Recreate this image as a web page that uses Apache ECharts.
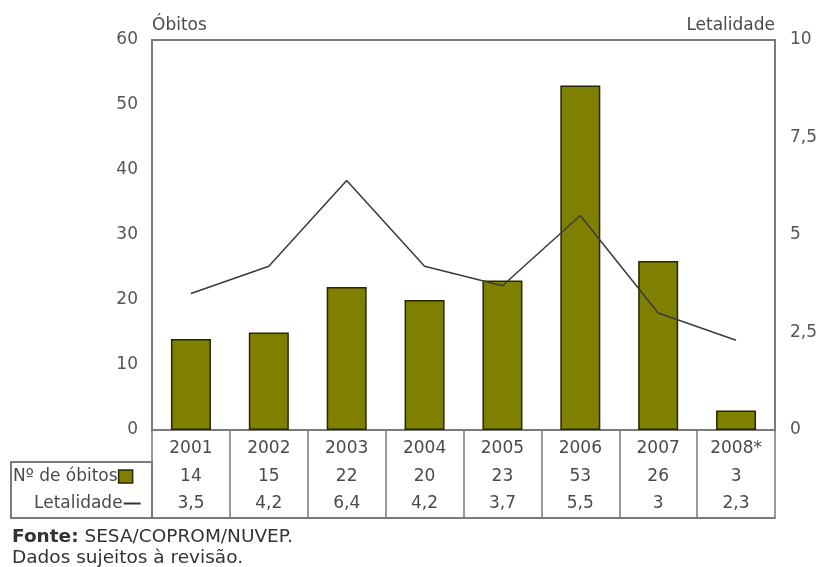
<!DOCTYPE html>
<html>
<head>
<meta charset="utf-8">
<script src="https://cdn.jsdelivr.net/npm/echarts@6/dist/echarts.min.js"></script>
<style>
  html, body { margin: 0; padding: 0; background: #fff; }
  #chart { width: 817px; height: 567px; }
</style>
</head>
<body>
<div id="chart"></div>
<script>
const years = ['2001', '2002', '2003', '2004', '2005', '2006', '2007', '2008*'];
const obitos = [14, 15, 22, 20, 23, 53, 26, 3];
const letalidade = [3.5, 4.2, 6.4, 4.2, 3.7, 5.5, 3.0, 2.3];
const leftTicks = { min: 0, max: 60, interval: 10 };
const rightTicks = { min: 0, max: 10, interval: 2.5 };

const fmt = v => String(v).replace('.', ',');
const font = 'DejaVu Sans, Verdana, sans-serif';
const frame = '#7a7a7a';
const textColor = '#4a4a4a';
const fs = 17;

const chart = echarts.init(document.getElementById('chart'));

const option = {
  animation: false,
  textStyle: { fontFamily: font },
  grid: {
    left: 152, right: 42, top: 40, bottom: 137,
    outerBoundsMode: 'none', containLabel: false,
    show: true, borderColor: frame, borderWidth: 2
  },
  legend: [
    {
      data: ['Nº de óbitos'], selectedMode: false, left: 13, top: 468, padding: 0,
      align: 'right', icon: 'rect', itemWidth: 14, itemHeight: 13,
      itemStyle: { borderColor: '#262600', borderWidth: 1.5 },
      textStyle: { fontSize: fs, color: textColor, padding: [0, -4, 0, 0] }
    },
    {
      data: ['Letalidade'], selectedMode: false, left: 34, top: 495, padding: 0,
      align: 'right', icon: 'rect', itemWidth: 17, itemHeight: 2,
      itemStyle: { color: '#333', borderWidth: 0 },
      textStyle: { fontSize: fs, color: textColor, padding: [0, -4, 0, 0] }
    }
  ],
  xAxis: [
    {
      type: 'category', data: years, position: 'bottom',
      axisLine: { show: true, lineStyle: { color: frame, width: 2 } },
      axisTick: { show: true, length: 32, interval: 0, lineStyle: { color: frame, width: 1.5 } },
      axisLabel: { interval: 0, margin: 10, fontSize: fs, color: textColor }
    },
    {
      type: 'category', data: obitos.map(String), position: 'bottom', offset: 32,
      axisLine: { show: true, lineStyle: { color: frame, width: 2 } },
      axisTick: { show: true, length: 56, interval: 0, lineStyle: { color: frame, width: 1.5 } },
      axisLabel: { interval: 0, margin: 6, fontSize: fs, color: textColor }
    },
    {
      type: 'category', data: letalidade.map(fmt), position: 'bottom', offset: 88,
      axisLine: { show: true, lineStyle: { color: frame, width: 2 } },
      axisTick: { show: true, inside: true, length: 56, interval: 0, lineStyle: { color: frame, width: 1.5 } },
      axisLabel: { interval: 0, inside: true, margin: 6, fontSize: fs, color: textColor }
    }
  ],
  yAxis: [
    {
      type: 'value', position: 'left', ...leftTicks,
      name: 'Óbitos', nameLocation: 'end', nameGap: 6,
      nameTextStyle: { align: 'left', fontSize: fs, color: textColor },
      axisLine: { show: false }, axisTick: { show: false }, splitLine: { show: false },
      axisLabel: { margin: 14, fontSize: fs, color: '#555' }
    },
    {
      type: 'value', position: 'right', ...rightTicks,
      name: 'Letalidade', nameLocation: 'end', nameGap: 6,
      nameTextStyle: { align: 'right', fontSize: fs, color: textColor },
      axisLine: { show: false }, axisTick: { show: false }, splitLine: { show: false },
      axisLabel: { margin: 15, fontSize: fs, color: '#555', formatter: fmt }
    }
  ],
  graphic: [
    {
      type: 'rect', shape: { x: 11, y: 462, width: 141, height: 56 },
      style: { fill: 'none', stroke: frame, lineWidth: 2 }
    },
    {
      type: 'text', left: 12, top: 527,
      style: {
        text: '{b|Fonte:} SESA/COPROM/NUVEP.\nDados sujeitos à revisão.',
        fontFamily: font, fontSize: 18.5, lineHeight: 21, fill: '#333',
        rich: { b: { fontWeight: 'bold', fontSize: 18.5, fontFamily: font, fill: '#333' } }
      }
    }
  ],
  series: [
    {
      name: 'Nº de óbitos', type: 'bar', xAxisIndex: 0, yAxisIndex: 0,
      data: obitos, barWidth: 40,
      itemStyle: { color: '#808000', borderColor: '#262600', borderWidth: 1.5 }
    },
    {
      name: 'Letalidade', type: 'line', xAxisIndex: 0, yAxisIndex: 1,
      data: letalidade, showSymbol: false, symbol: 'none',
      lineStyle: { color: '#3a3a3a', width: 1.5 },
      itemStyle: { color: '#3a3a3a' }
    }
  ]
};

chart.setOption(option);
</script>
</body>
</html>
